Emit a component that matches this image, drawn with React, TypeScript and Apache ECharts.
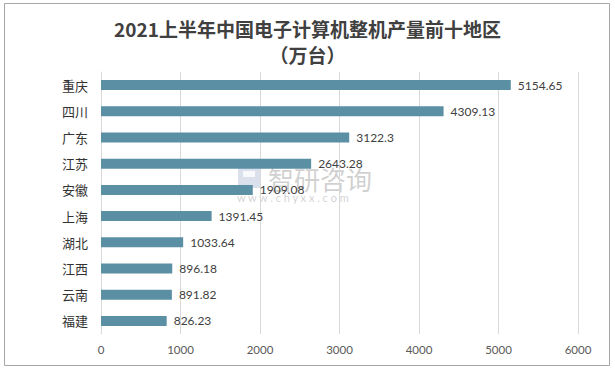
import React, { useEffect, useRef } from "react";
import * as echarts from "echarts";

const categories = ["重庆", "四川", "广东", "江苏", "安徽", "上海", "湖北", "江西", "云南", "福建"];
const values = [5154.65, 4309.13, 3122.3, 2643.28, 1909.08, 1391.45, 1033.64, 896.18, 891.82, 826.23];
const valueLabels = ["5154.65", "4309.13", "3122.3", "2643.28", "1909.08", "1391.45", "1033.64", "896.18", "891.82", "826.23"];
const titleLines = ["2021上半年中国电子计算机整机产量前十地区", "（万台）"];

export default function App() {
  const ref = useRef<HTMLDivElement>(null);
  useEffect(() => {
    if (!ref.current) return;
    const chart = echarts.init(ref.current, null, { renderer: "svg" });
    const cjk = "'Noto Sans CJK SC', sans-serif";
    const num = "Lato, 'Noto Sans CJK SC', sans-serif";
    chart.setOption({
      animation: false,
      backgroundColor: "#ffffff",
      title: {
        text: titleLines.join("\n"),
        left: "center",
        top: 10,
        textStyle: {
          fontFamily: cjk,
          fontSize: 19,
          fontWeight: "bold",
          color: "#404040",
          lineHeight: 26,
        },
      },
      grid: { left: 101, right: 37, top: 72, bottom: 37, containLabel: false },
      xAxis: {
        type: "value",
        min: 0,
        max: 6000,
        interval: 1000,
        axisLine: { show: false },
        axisTick: { show: false },
        splitLine: { show: true, lineStyle: { color: "#d9d9d9", width: 1 } },
        axisLabel: {
          color: "#595959",
          fontSize: 11.5,
          fontFamily: num,
          margin: 10,
          formatter: (v: number) => String(v),
        },
      },
      yAxis: {
        type: "category",
        data: categories,
        inverse: true,
        axisLine: { show: true, lineStyle: { color: "#d9d9d9" } },
        axisTick: { show: false },
        axisLabel: { color: "#333333", fontSize: 13, fontFamily: cjk, margin: 13 },
      },
      series: [
        {
          type: "bar",
          data: values,
          barWidth: 10,
          itemStyle: { color: "#5B8FA4" },
          label: {
            show: true,
            position: "right",
            distance: 7,
            color: "#404040",
            fontSize: 12,
            fontFamily: num,
            formatter: (p: any) => valueLabels[p.dataIndex],
          },
        },
      ],
      graphic: [
        {
          type: "rect",
          shape: { x: 4.5, y: 3.5, width: 605, height: 362 },
          style: { fill: "none", stroke: "#a6a6a6", lineWidth: 1 },
          silent: true,
          z: 100,
        },
        {
          type: "group",
          z: -1,
          silent: true,
          children: [
            { type: "rect", shape: { x: 238, y: 166, width: 22, height: 22 }, style: { fill: "rgba(150,170,200,0.35)" } },
            { type: "rect", shape: { x: 243, y: 171, width: 12, height: 6 }, style: { fill: "rgba(255,255,255,0.8)" } },
            {
              type: "text",
              x: 268,
              y: 178,
              style: { text: "智研咨询", fontSize: 26, fontFamily: cjk, fill: "rgba(120,120,120,0.35)", verticalAlign: "middle" },
            },
            {
              type: "text",
              x: 237,
              y: 197,
              style: { text: "w w w . c h y x x . c o m", fontSize: 11, fontFamily: num, fill: "rgba(120,120,120,0.35)", verticalAlign: "middle" },
            },
          ],
        },
      ],
    });
    return () => chart.dispose();
  }, []);
  return <div ref={ref} style={{ position: "fixed", left: 0, top: 0, width: 615, height: 371 }} />;
}
